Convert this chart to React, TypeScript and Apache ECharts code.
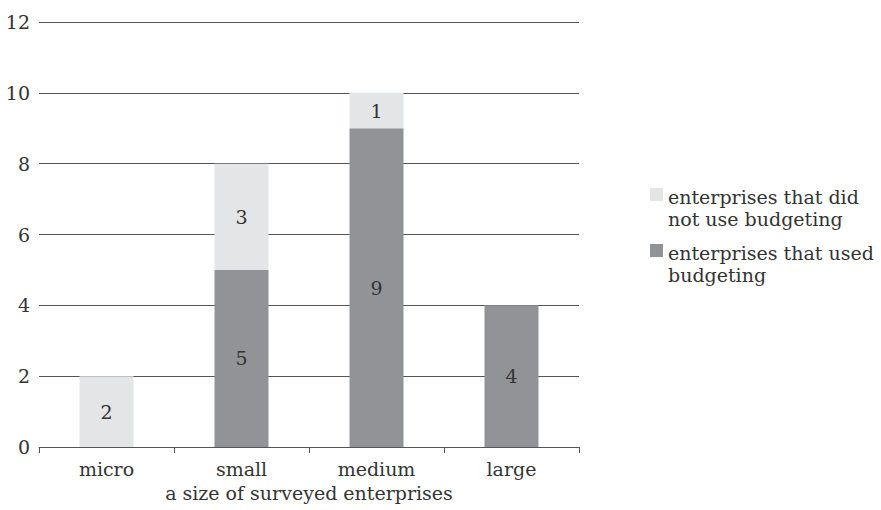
import React, { useEffect, useRef } from "react";
import * as echarts from "echarts";

const categories = ["micro", "small", "medium", "large"];
const usedBudgeting = [0, 5, 9, 4];
const notUsedBudgeting = [2, 3, 1, 0];
const seriesNames = ["enterprises that did not use budgeting", "enterprises that used budgeting"];
const legendLabels: Record<string, string> = {
  "enterprises that did not use budgeting": "enterprises that did\nnot use budgeting",
  "enterprises that used budgeting": "enterprises that used\nbudgeting",
};
const xAxisName = "a size of surveyed enterprises";

const FONT = "DejaVu Serif";
const TEXT = "#333333";
const FS = 19;

export default function App() {
  const ref = useRef<HTMLDivElement>(null);
  useEffect(() => {
    document.body.style.margin = "0";
    const chart = echarts.init(ref.current!, null, { renderer: "svg" });
    const label = {
      show: true,
      position: "inside",
      color: TEXT,
      fontFamily: FONT,
      fontSize: FS,
      formatter: (p: any) => (p.value ? String(p.value) : ""),
    };
    chart.setOption({
      animation: false,
      textStyle: { fontFamily: FONT, color: TEXT },
      grid: { left: 39, right: 302, top: 22, bottom: 63 },
      legend: {
        orient: "vertical",
        left: 645,
        top: 181,
        itemGap: 12,
        itemWidth: 13,
        itemHeight: 44,
        icon: "path://M0,2L13,2L13,15L0,15Z M0,0 M0,44",
        data: [seriesNames[0], seriesNames[1]],
        formatter: (n: string) => legendLabels[n] || n,
        textStyle: { fontFamily: FONT, fontSize: FS, color: TEXT, lineHeight: 22 },
      },
      xAxis: {
        type: "category",
        data: categories,
        name: xAxisName,
        nameLocation: "middle",
        nameGap: 36,
        nameTextStyle: { fontFamily: FONT, fontSize: FS, color: TEXT },
        axisLine: { lineStyle: { color: "#555", width: 1 } },
        axisTick: { show: true, length: 6, lineStyle: { color: "#555" } },
        axisLabel: { fontFamily: FONT, fontSize: FS, color: TEXT, margin: 12 },
      },
      yAxis: {
        type: "value",
        min: 0,
        max: 12,
        interval: 2,
        axisLine: { show: false },
        axisTick: { show: false },
        splitLine: { lineStyle: { color: "#555", width: 1 } },
        axisLabel: { fontFamily: FONT, fontSize: FS, color: TEXT, margin: 9 },
      },
      series: [
        {
          name: seriesNames[1],
          type: "bar",
          stack: "total",
          barWidth: "40%",
          data: usedBudgeting,
          itemStyle: { color: "#929396" },
          label,
        },
        {
          name: seriesNames[0],
          type: "bar",
          stack: "total",
          barWidth: "40%",
          data: notUsedBudgeting,
          itemStyle: { color: "#e4e5e7" },
          label,
        },
      ],
    });
    return () => chart.dispose();
  }, []);
  return <div ref={ref} style={{ width: 881, height: 510 }} />;
}
